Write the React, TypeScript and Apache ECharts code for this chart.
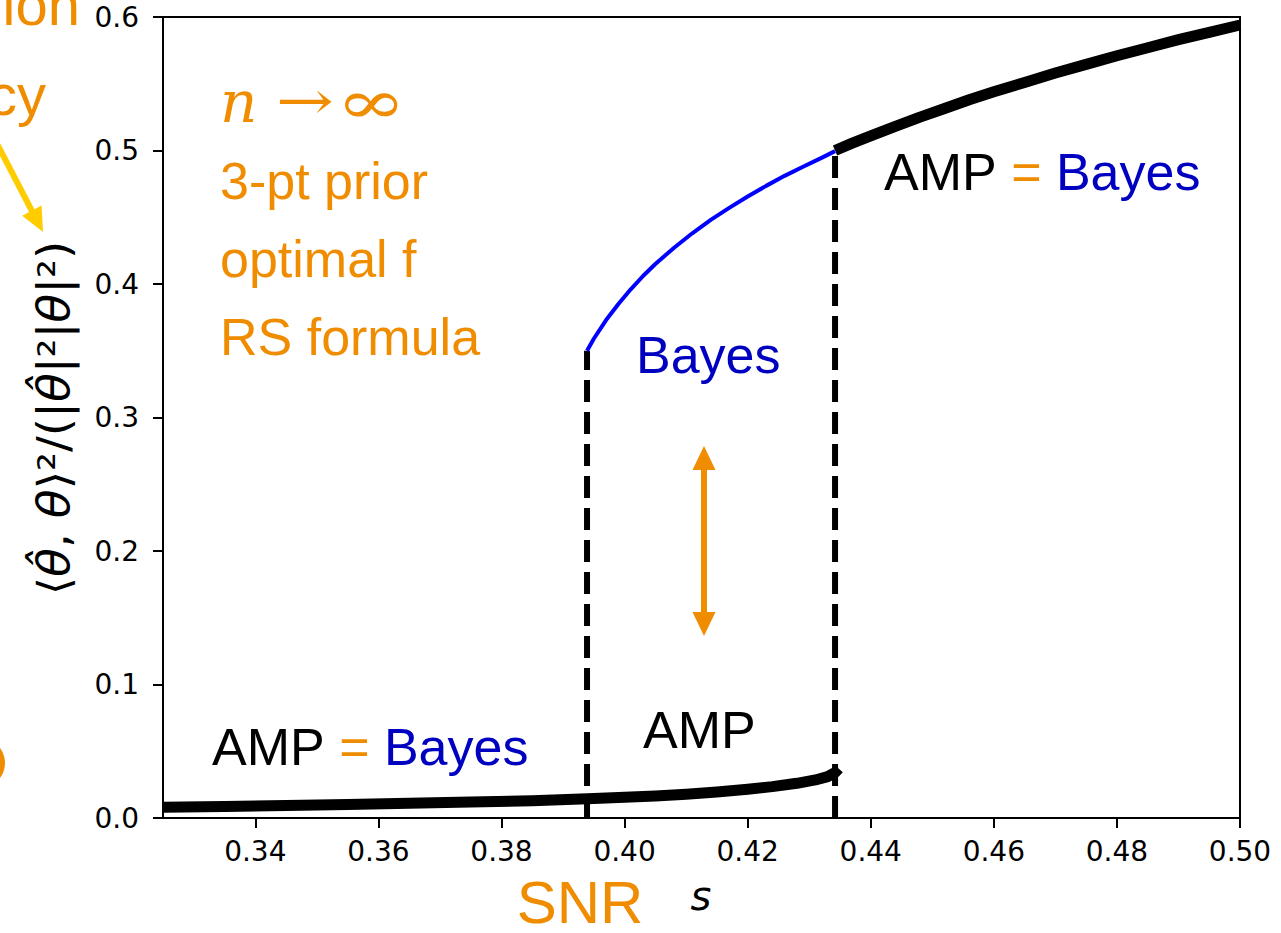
import React, { useEffect, useRef } from 'react';
import * as echarts from 'echarts';

// ---- data ----
const lowerS = [0.325, 0.335, 0.345, 0.355, 0.365, 0.375, 0.385, 0.394, 0.4, 0.405, 0.41, 0.415, 0.42, 0.424, 0.428, 0.431, 0.433, 0.4342, 0.4348];
const lowerQ = [0.008, 0.0087, 0.0094, 0.0102, 0.011, 0.0119, 0.0129, 0.0145, 0.0155, 0.0165, 0.0178, 0.0195, 0.0215, 0.0235, 0.026, 0.0285, 0.031, 0.034, 0.037];

const bayesS = [0.3939, 0.395, 0.397, 0.399, 0.401, 0.403, 0.405, 0.408, 0.411, 0.414, 0.417, 0.42, 0.423, 0.426, 0.429, 0.432, 0.4342];
const bayesQ = [0.35, 0.359, 0.373, 0.385, 0.396, 0.406, 0.415, 0.427, 0.438, 0.448, 0.457, 0.4655, 0.4735, 0.481, 0.4878, 0.4945, 0.4995];

const upperS = [0.4342, 0.437, 0.44, 0.444, 0.448, 0.452, 0.456, 0.46, 0.465, 0.47, 0.475, 0.48, 0.485, 0.49, 0.495, 0.5];
const upperQ = [0.5, 0.5055, 0.511, 0.518, 0.525, 0.5315, 0.538, 0.544, 0.551, 0.558, 0.5645, 0.571, 0.577, 0.583, 0.5885, 0.594];

const transitionS = [0.3939, 0.4342];
const transitionQ = [0.35, 0.5];

const xTicks = [0.34, 0.36, 0.38, 0.4, 0.42, 0.44, 0.46, 0.48, 0.5];
const yTicks = [0, 0.1, 0.2, 0.3, 0.4, 0.5, 0.6];

const ORANGE = '#F08C00';
const BLUE_TXT = '#0000C0';
const SANS = 'Liberation Sans';

const zip = (a: number[], b: number[]) => a.map((v, i) => [v, b[i]]);

const ampEqBayes = (x: number, y: number) => ({
  type: 'text', x, y,
  style: {
    text: '{a|AMP }{e|=}{b| Bayes}', align: 'left', verticalAlign: 'middle',
    rich: {
      a: { fontSize: 52, fontFamily: SANS, fill: '#000' },
      e: { fontSize: 52, fontFamily: SANS, fill: ORANGE },
      b: { fontSize: 52, fontFamily: SANS, fill: BLUE_TXT },
    },
  },
});

export default function App() {
  const ref = useRef<HTMLDivElement>(null);
  useEffect(() => {
    const chart = echarts.init(ref.current!, null, { renderer: 'svg' });
    const dashed = transitionS.map((s, i) => ({
      type: 'line',
      data: [[s, 0], [s, transitionQ[i]]],
      symbol: 'none',
      lineStyle: { color: '#000', width: 6, type: [22, 10], cap: 'butt' },
      z: 2,
    }));
    const curve = (s: number[], q: number[], color: string, width: number, z: number) => ({
      type: 'line', data: zip(s, q), symbol: 'none', smooth: false,
      lineStyle: { color, width, cap: 'butt', join: 'round' }, z,
    });
    const option: any = {
      animation: false,
      backgroundColor: '#fff',
      grid: {
        left: 163, top: 17, right: 41, bottom: 115,
        show: true, borderColor: '#000', borderWidth: 2, backgroundColor: 'transparent',
      },
      xAxis: {
        type: 'value', min: 0.325, max: 0.5,
        axisLine: { show: true, onZero: false, lineStyle: { color: '#000', width: 2 } },
        axisTick: { show: true, length: 10, lineStyle: { color: '#000', width: 2 }, customValues: xTicks },
        axisLabel: {
          customValues: xTicks, formatter: (v: number) => v.toFixed(2),
          fontSize: 28, fontFamily: 'DejaVu Sans', color: '#000', margin: 19,
        },
        splitLine: { show: false },
      },
      yAxis: {
        type: 'value', min: 0, max: 0.6,
        axisLine: { show: true, lineStyle: { color: '#000', width: 2 } },
        axisTick: { show: true, length: 10, lineStyle: { color: '#000', width: 2 }, customValues: yTicks },
        axisLabel: {
          customValues: yTicks, formatter: (v: number) => v.toFixed(1),
          fontSize: 28, fontFamily: 'DejaVu Sans', color: '#000', margin: 24,
        },
        splitLine: { show: false },
      },
      series: [
        ...dashed,
        curve(lowerS, lowerQ, '#000', 11, 3),
        curve(bayesS, bayesQ, '#0000FF', 4, 3),
        curve(upperS, upperQ, '#000', 11, 4),
      ],
      graphic: [
        // y axis title
        {
          type: 'text', x: 54, y: 418, rotation: Math.PI / 2, scaleX: 1.07,
          style: {
            text: '{n|⟨}{i|θ̂}{n|, }{i|θ}{n|⟩²/(|}{i|θ̂}{n||²|}{i|θ}{n||²)}',
            align: 'center', verticalAlign: 'middle',
            rich: {
              n: { fontSize: 44, fontFamily: 'DejaVu Sans', fill: '#000' },
              i: { fontSize: 44, fontFamily: 'DejaVu Sans', fontStyle: 'italic', fill: '#000' },
            },
          },
        },
        // x axis title
        {
          type: 'text', x: 701, y: 896,
          style: { text: 's', fontSize: 40, fontFamily: 'DejaVu Sans', fontStyle: 'italic', fill: '#000', align: 'center', verticalAlign: 'middle' },
        },
        {
          type: 'text', x: 580, y: 902,
          style: { text: 'SNR', fontSize: 60, fontFamily: SANS, fill: ORANGE, align: 'center', verticalAlign: 'middle' },
        },
        // cut-off text at left
        {
          type: 'text', x: 80, y: 4,
          style: { text: 'ion', fontSize: 58, fontFamily: SANS, fill: ORANGE, align: 'right', verticalAlign: 'middle' },
        },
        {
          type: 'text', x: 46, y: 94,
          style: { text: 'cy', fontSize: 58, fontFamily: SANS, fill: ORANGE, align: 'right', verticalAlign: 'middle' },
        },
        { type: 'circle', shape: { cx: -20, cy: 763, r: 25 }, style: { fill: ORANGE } },
        // yellow arrow
        { type: 'line', shape: { x1: -5, y1: 140, x2: 33, y2: 213 }, style: { stroke: '#FFCC00', lineWidth: 6 } },
        { type: 'polygon', shape: { points: [[43, 232], [41.6, 205.6], [22.2, 215.8]] }, style: { fill: '#FFCC00' } },
        // orange double arrow
        { type: 'line', shape: { x1: 704, y1: 466, x2: 704, y2: 616 }, style: { stroke: ORANGE, lineWidth: 6 } },
        { type: 'polygon', shape: { points: [[704, 446], [692.5, 470], [715.5, 470]] }, style: { fill: ORANGE } },
        { type: 'polygon', shape: { points: [[704, 636], [692.5, 612], [715.5, 612]] }, style: { fill: ORANGE } },
        // condition notes
        {
          type: 'text', x: 220, y: 102,
          style: { text: 'n', fontSize: 58, fontFamily: 'DejaVu Serif', fontStyle: 'italic', fill: ORANGE, align: 'left', verticalAlign: 'middle' },
        },
        {
          type: 'text', x: 305, y: 100, scaleX: 1.28,
          style: { text: '→', fontSize: 54, fontFamily: 'DejaVu Serif', fill: ORANGE, align: 'center', verticalAlign: 'middle' },
        },
        {
          type: 'text', x: 371, y: 102, scaleX: 1.4,
          style: { text: '∞', fontSize: 60, fontFamily: 'DejaVu Serif', fill: ORANGE, align: 'center', verticalAlign: 'middle' },
        },
        { type: 'text', x: 220, y: 181, style: { text: '3-pt prior', fontSize: 52, fontFamily: SANS, fill: ORANGE, align: 'left', verticalAlign: 'middle' } },
        { type: 'text', x: 220, y: 259, style: { text: 'optimal f', fontSize: 52, fontFamily: SANS, fill: ORANGE, align: 'left', verticalAlign: 'middle' } },
        { type: 'text', x: 220, y: 337, style: { text: 'RS formula', fontSize: 52, fontFamily: SANS, fill: ORANGE, align: 'left', verticalAlign: 'middle' } },
        // region labels
        { type: 'text', x: 636, y: 355, style: { text: 'Bayes', fontSize: 52, fontFamily: SANS, fill: BLUE_TXT, align: 'left', verticalAlign: 'middle' } },
        { type: 'text', x: 643, y: 730, style: { text: 'AMP', fontSize: 52, fontFamily: SANS, fill: '#000', align: 'left', verticalAlign: 'middle' } },
        ampEqBayes(884, 172),
        ampEqBayes(212, 747),
      ],
    };
    chart.setOption(option);
    return () => chart.dispose();
  }, []);
  return (
    <div
      ref={ref}
      style={{ position: 'fixed', left: 0, top: 0, width: 1281, height: 933, background: '#fff' }}
    />
  );
}
